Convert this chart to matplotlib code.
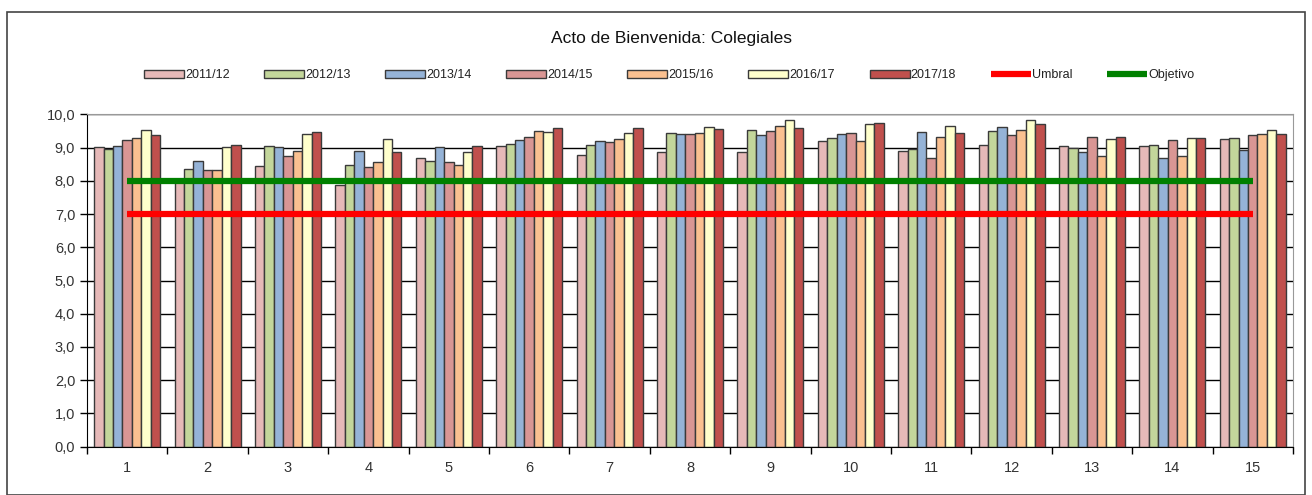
import numpy as np
import matplotlib.pyplot as plt
from matplotlib.patches import Rectangle
from matplotlib.ticker import FuncFormatter

plt.rcParams['font.family'] = ['Liberation Sans', 'DejaVu Sans']

# Data
groups = [str(i) for i in range(1, 16)]
seasons = ['2011/12', '2012/13', '2013/14', '2014/15', '2015/16', '2016/17', '2017/18']
v_2011 = [9.01, 7.95, 8.44, 7.87, 8.70, 9.05, 8.77, 8.88, 8.88, 9.19, 8.91, 9.09, 9.05, 9.05, 9.26]
v_2012 = [8.95, 8.37, 9.05, 8.47, 8.59, 9.10, 9.09, 9.43, 9.54, 9.30, 8.95, 9.50, 8.98, 9.09, 9.30]
v_2013 = [9.05, 8.59, 9.01, 8.91, 9.01, 9.23, 9.19, 9.40, 9.37, 9.40, 9.47, 9.61, 8.88, 8.70, 8.94]
v_2014 = [9.23, 8.32, 8.76, 8.41, 8.56, 9.33, 9.16, 9.40, 9.50, 9.43, 8.70, 9.37, 9.33, 9.23, 9.37]
v_2015 = [9.30, 8.32, 8.91, 8.56, 8.49, 9.51, 9.26, 9.44, 9.64, 9.19, 9.33, 9.54, 8.76, 8.76, 9.41]
v_2016 = [9.54, 9.01, 9.40, 9.26, 8.88, 9.47, 9.44, 9.61, 9.82, 9.72, 9.65, 9.82, 9.26, 9.30, 9.54]
v_2017 = [9.37, 9.09, 9.47, 8.87, 9.05, 9.58, 9.58, 9.57, 9.58, 9.75, 9.44, 9.71, 9.33, 9.30, 9.41]
umbral = 7.0
objetivo = 8.0

series = [v_2011, v_2012, v_2013, v_2014, v_2015, v_2016, v_2017]
colors = ['#E6B9B8', '#C3D69B', '#95B3D7', '#D99694', '#FAC090', '#FFFFCC', '#C0504D']

fig = plt.figure(figsize=(13.12, 4.95), dpi=100)
ax = fig.add_axes([0.0663, 0.0976, 0.9192, 0.6714])

x = np.arange(1, len(groups) + 1)
w = 0.1175
for i, (vals, c, lab) in enumerate(zip(series, colors, seasons)):
    ax.bar(x + (i - 3) * w, vals, width=w, color=c, edgecolor='#3a3a3a',
           linewidth=1.0, label=lab, zorder=2)

ax.plot([x[0], x[-1]], [umbral, umbral], color='#FF0000', lw=4.5, label='Umbral', zorder=3,
        solid_capstyle='butt')
ax.plot([x[0], x[-1]], [objetivo, objetivo], color='#008000', lw=4.5, label='Objetivo', zorder=3,
        solid_capstyle='butt')

ax.set_xlim(0.5, 15.5)
ax.set_ylim(0, 10)
ax.set_yticks(np.arange(0, 11, 1))
ax.yaxis.set_major_formatter(FuncFormatter(lambda v, p: f'{v:.1f}'.replace('.', ',')))
ax.yaxis.grid(True, color='black', lw=1.0, zorder=0)
ax.set_axisbelow(True)

ax.set_xticks(x)
ax.set_xticklabels(groups)
ax.set_xticks(np.arange(0.5, 16, 1), minor=True)
ax.tick_params(axis='x', which='major', length=0, pad=10, labelsize=10.5, colors='#333333')
ax.tick_params(axis='x', which='minor', length=5, width=1, color='black')
ax.tick_params(axis='y', length=5, width=1, labelsize=10.5, labelcolor='#333333', color='black')

for s in ['left', 'bottom']:
    ax.spines[s].set_color('black')
ax.spines['top'].set_color('#999999')
ax.spines['right'].set_color('#999999')

fig.text(0.512, 0.923, 'Acto de Bienvenida: Colegiales', ha='center', va='center',
         fontsize=12.5, color='#111111')

handles, labels = ax.get_legend_handles_labels()
order = list(range(2, 9)) + [0, 1]
leg = fig.legend([handles[i] for i in order], [labels[i] for i in order],
                 loc='center', bbox_to_anchor=(0.51, 0.848), ncol=9, frameon=False,
                 fontsize=9, handlelength=3.2, handleheight=0.6, handletextpad=0.1,
                 columnspacing=2.75)
for t in leg.get_texts():
    t.set_color('#222222')

fig.patches.append(Rectangle((7 / 1312, 0.0), 1298 / 1312, 1 - 12 / 495,
                             transform=fig.transFigure, fill=False,
                             edgecolor='#444444', lw=1.2))

fig.savefig('out.png', dpi=100)
